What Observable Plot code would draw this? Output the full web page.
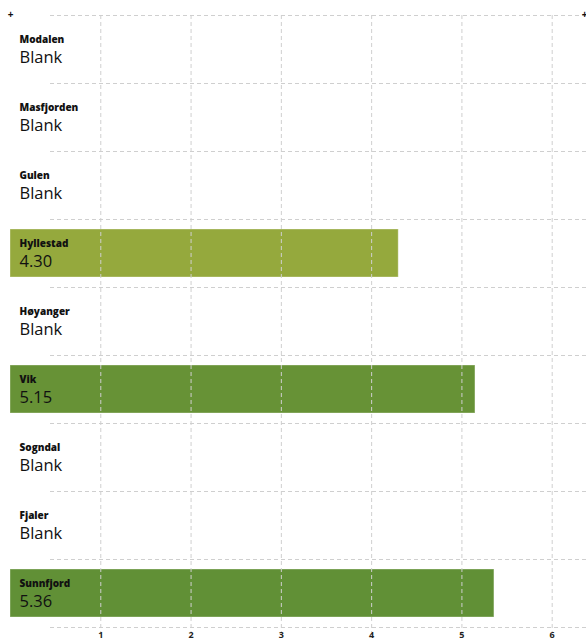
<!DOCTYPE html>
<html>
<head>
<meta charset="utf-8">
<script src="https://cdn.jsdelivr.net/npm/d3@7"></script>
<script src="https://cdn.jsdelivr.net/npm/@observablehq/plot@0.6"></script>
<style>
  html, body { margin: 0; padding: 0; background: #fff; overflow: hidden; }
  #chart svg { display: block; }
</style>
</head>
<body>
<div id="chart"></div>
<script>
const categories = ["Modalen", "Masfjorden", "Gulen", "Hyllestad", "Høyanger", "Vik", "Sogndal", "Fjaler", "Sunnfjord"];
const values = [null, null, null, 4.30, null, 5.15, null, null, 5.36];
const barColors = [null, null, null, "#95a93d", null, "#679236", null, null, "#619036"];
const xTicks = [1, 2, 3, 4, 5, 6];

const rows = categories.map((name, i) => ({
  name, i, value: values[i], color: barColors[i],
  label: values[i] == null ? "Blank" : values[i].toFixed(2)
}));
const bars = rows.filter(d => d.value != null);

const font = "'Open Sans', Lato, sans-serif";
const grid = "#cfcfcf";

const chart = Plot.plot({
  width: 586,
  height: 641,
  marginLeft: 10,
  marginRight: 0,
  marginTop: 15,
  marginBottom: 14,
  style: { fontFamily: font, background: "#fff", overflow: "visible" },
  x: { domain: [0, 6.38], axis: null },
  y: { domain: [0, categories.length], reverse: true, axis: null },
  marks: [
    Plot.rectX(bars, {
      x1: 0, x2: "value", y1: "i", y2: d => d.i + 1,
      insetTop: 10, insetBottom: 10,
      fill: "color", stroke: "#ffffff", strokeOpacity: 0.35, strokeWidth: 1
    }),
    Plot.ruleY(d3.range(categories.length + 1), {
      y: d => d, insetLeft: 40, stroke: grid, strokeDasharray: "4,3", strokeWidth: 1
    }),
    Plot.ruleX(xTicks, {
      x: d => d, insetBottom: -5, stroke: grid, strokeDasharray: "4,3", strokeWidth: 1
    }),
    Plot.text(xTicks, {
      x: d => d, frameAnchor: "bottom", dy: 8, text: d => String(d),
      fontSize: 9, fontWeight: "bold", fill: "#222", lineAnchor: "middle"
    }),
    Plot.text(rows, {
      x: 0, y: d => d.i + 0.5, dx: 9, dy: -10, text: "name",
      textAnchor: "start", lineAnchor: "middle",
      fontSize: 10, fontWeight: 800, fill: "#111"
    }),
    Plot.text(rows, {
      x: 0, y: d => d.i + 0.5, dx: 9, dy: 8, text: "label",
      textAnchor: "start", lineAnchor: "middle",
      fontSize: 16.5, fill: "#111"
    }),
    Plot.text(["+"], {
      frameAnchor: "top-left", dy: -1, text: d => d,
      textAnchor: "middle", lineAnchor: "middle", fontSize: 10, fontWeight: "bold", fill: "#111"
    }),
    Plot.text(["+"], {
      frameAnchor: "top-right", dx: -2, dy: -1, text: d => d,
      textAnchor: "middle", lineAnchor: "middle", fontSize: 10, fontWeight: "bold", fill: "#111"
    })
  ]
});

document.getElementById("chart").appendChild(chart);
</script>
</body>
</html>
